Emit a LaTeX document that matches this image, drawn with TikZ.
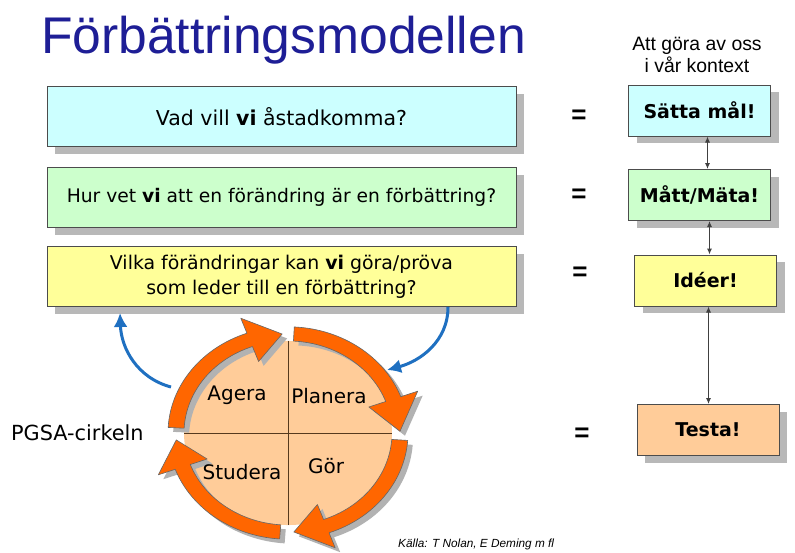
\documentclass[tikz,border=0pt]{standalone}
\usepackage{fontspec}
\setmainfont{DejaVu Sans}
\newfontfamily\arialfont{Liberation Sans}
\usepackage{xcolor}
\usetikzlibrary{positioning, shadows, arrows.meta}

\definecolor{titleblue}{HTML}{1E1E96}
\definecolor{boxcyan}{HTML}{CCFFFF}
\definecolor{boxgreen}{HTML}{CCFFCC}
\definecolor{boxyellow}{HTML}{FFFF99}
\definecolor{boxpeach}{HTML}{FFCC99}
\definecolor{pdsaorange}{HTML}{FF6600}
\definecolor{pdsablue}{HTML}{1F70C1}

\tikzset{
  boxshadow/.style={drop shadow={shadow xshift=8pt, shadow yshift=-7pt, fill=black!28, opacity=1}},
  qbox/.style={draw=black!70, line width=1pt, minimum width=469pt, minimum height=60pt, align=center, boxshadow},
  abox/.style={draw=black!70, line width=1pt, minimum width=142pt, minimum height=51pt, font=\fontsize{19}{22}\selectfont\bfseries, boxshadow},
  eqsign/.style={font=\arialfont\bfseries\fontsize{26}{26}\selectfont, inner sep=0pt},
  steplabel/.style={font=\fontsize{20}{24}\selectfont, inner sep=0pt},
  linkarrow/.style={black!75, line width=1pt, {Latex[length=6pt,width=5pt]}-{Latex[length=6pt,width=5pt]}},
  bluearrow/.style={pdsablue, line width=3pt, -{Latex[length=14pt,width=14pt]}},
  cyclearrow/.style={fill=pdsaorange, draw=black!60, line width=0.6pt, line join=round}
}

\begin{document}
\begin{tikzpicture}[x=1pt, y=1pt]
  \fill[white] (0,0) rectangle (795,-552);
  \useasboundingbox (0,0) rectangle (795,-552);

  \node[anchor=base west, text=titleblue, font=\arialfont\fontsize{51.6}{60}\selectfont, inner sep=0pt] (title) at (41,-53) {Förbättringsmodellen};
  \node[align=center, font=\arialfont\fontsize{19.4}{22.5}\selectfont, inner sep=0pt] (context) at (697,-55) {Att göra av oss\\i vår kontext};

  \node[qbox, fill=boxcyan, font=\fontsize{20.5}{25}\selectfont] (q1) at (281.5,-116.5) {Vad vill \textbf{vi} åstadkomma?};
  \node[qbox, fill=boxgreen, font=\fontsize{18.7}{25}\selectfont] (q2) at (281.5,-197.5) {Hur vet \textbf{vi} att en förändring är en förbättring?};
  \node[qbox, fill=boxyellow, font=\fontsize{18.9}{25}\selectfont] (q3) at (281.5,-276.5) {Vilka förändringar kan \textbf{vi} göra/pröva\\som leder till en förbättring?};

  \node[eqsign] (eq1) at (579,-117) {=};
  \node[eqsign] (eq2) at (579,-196) {=};
  \node[eqsign] (eq3) at (580,-274) {=};
  \node[eqsign] (eq4) at (582,-435) {=};

  \node[abox, fill=boxcyan] (aim) at (699.5,-110.5) {Sätta mål!};
  \node[abox, fill=boxgreen] (measure) at (699.5,-195) {Mått/Mäta!};
  \node[abox, fill=boxyellow] (ideas) at (705.5,-280.5) {Idéer!};
  \node[abox, fill=boxpeach] (test) at (708,-430) {Testa!};

  \draw[linkarrow] ([xshift=8pt]aim.south) -- ([xshift=8pt]aim.south |- measure.north);
  \draw[linkarrow] ([xshift=4pt]ideas.north |- measure.south) -- ([xshift=4pt]ideas.north);
  \draw[linkarrow] ([xshift=3pt]ideas.south) -- ([xshift=3pt]ideas.south |- test.north);

  \begin{scope}[shift={(288,-433)}, yscale=0.885]
    \fill[boxpeach] (0,0) circle[radius=104];
    \draw[black!55!brown, line width=1pt] (0,104) -- (0,-104);
    \draw[black!55!brown, line width=1pt] (-104,0) -- (104,0);
    \foreach \t/\b/\p in {177/110/93, 87/20/1, -4/-70/-87, -94/-160/-176} {
      \fill[black!30, shift={(5,-5)}] (\t:104) arc[start angle=\t, end angle=\b, radius=104] -- (\b:86) -- (\p:112) -- (\b:138) -- (\b:120) arc[start angle=\b, end angle=\t, radius=120] -- cycle;
      \draw[cyclearrow] (\t:104) arc[start angle=\t, end angle=\b, radius=104] -- (\b:86) -- (\p:112) -- (\b:138) -- (\b:120) arc[start angle=\b, end angle=\t, radius=120] -- cycle;
    }
  \end{scope}

  \node[steplabel] (act) at (237,-395) {Agera};
  \node[steplabel] (plan) at (329,-396) {Planera};
  \node[steplabel] (study) at (242,-472) {Studera};
  \node[steplabel] (do) at (326,-466) {Gör};

  \node[anchor=west, font=\fontsize{20.8}{24}\selectfont, inner sep=0pt] (pdsa) at (11,-433) {PGSA-cirkeln};

  \coordinate (cycleleft) at (171,-387);
  \coordinate (q3left) at (120,-313);
  \coordinate (q3right) at (448,-307);
  \coordinate (cycleright) at (387,-370);
  \draw[bluearrow] (cycleleft) to[out=165, in=-88] (q3left);
  \draw[bluearrow] (q3right) to[out=-90, in=15] (cycleright);

  \node[anchor=base west, font=\arialfont\itshape\fontsize{11.8}{14}\selectfont, inner sep=0pt] (source) at (398,-547.5) {Källa: T Nolan, E Deming m fl};
\end{tikzpicture}
\end{document}
